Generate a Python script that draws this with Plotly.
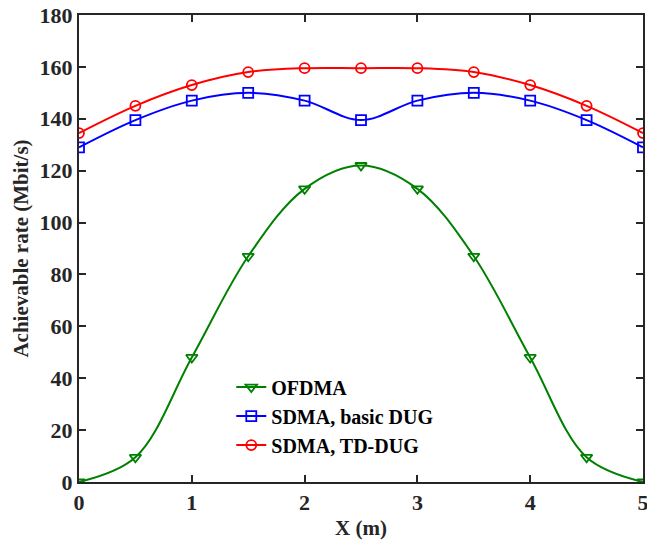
import plotly.graph_objects as go

x_vals = [0, 0.5, 1, 1.5, 2, 2.5, 3, 3.5, 4, 4.5, 5]
ofdma = [0, 9.5, 48, 87, 113, 122, 113, 87, 48, 9.5, 0]
sdma_basic = [129, 139.5, 147, 150, 147, 139.5, 147, 150, 147, 139.5, 129]
sdma_td = [134.5, 145, 153, 158, 159.5, 159.5, 159.5, 158, 153, 145, 134.5]

names = ["OFDMA", "SDMA, basic DUG", "SDMA, TD-DUG"]
colors = ["#008000", "#0000ff", "#ff0000"]
symbols = ["triangle-down-open", "square-open", "circle-open"]
series = [ofdma, sdma_basic, sdma_td]

font_family = "Liberation Serif"
ink = "#262626"

fig = go.Figure()
for name, ys, c, s in zip(names, series, colors, symbols):
    fig.add_trace(go.Scatter(
        x=x_vals, y=ys, name="<b>" + name + "</b>", mode="lines+markers",
        line=dict(color=c, width=2, shape="spline", smoothing=1.0),
        marker=dict(symbol=s, size=10, color=c, line=dict(color=c, width=1.8)),
    ))

axis_common = dict(
    showline=True, linecolor=ink, linewidth=2, mirror="ticks",
    ticks="inside", ticklen=7, tickwidth=2, tickcolor=ink,
    showgrid=False, zeroline=False, automargin=False,
    ticklabeloverflow="allow",
    tickfont=dict(family=font_family, size=22, color=ink, weight="bold"),
)

fig.update_layout(
    width=647, height=547,
    margin=dict(l=79, r=4, t=15, b=65),
    paper_bgcolor="white", plot_bgcolor="white",
    font=dict(family=font_family, color=ink),
    xaxis=dict(range=[0, 5], tickvals=[0, 1, 2, 3, 4, 5],
               title=dict(text="<b>X (m)</b>", font=dict(family=font_family, size=21, color=ink), standoff=6),
               **axis_common),
    yaxis=dict(range=[0, 180], tickvals=list(range(0, 181, 20)),
               title=dict(text="<b>Achievable rate (Mbit/s)</b>", font=dict(family=font_family, size=21, color=ink), standoff=5),
               **axis_common),
    legend=dict(x=0.27, y=0.245, xanchor="left", yanchor="top",
                bgcolor="rgba(0,0,0,0)", borderwidth=0,
                font=dict(family=font_family, size=20, color="#000000"),
                itemwidth=30, tracegroupgap=0),
    showlegend=True,
)

fig.write_html("out.html")
